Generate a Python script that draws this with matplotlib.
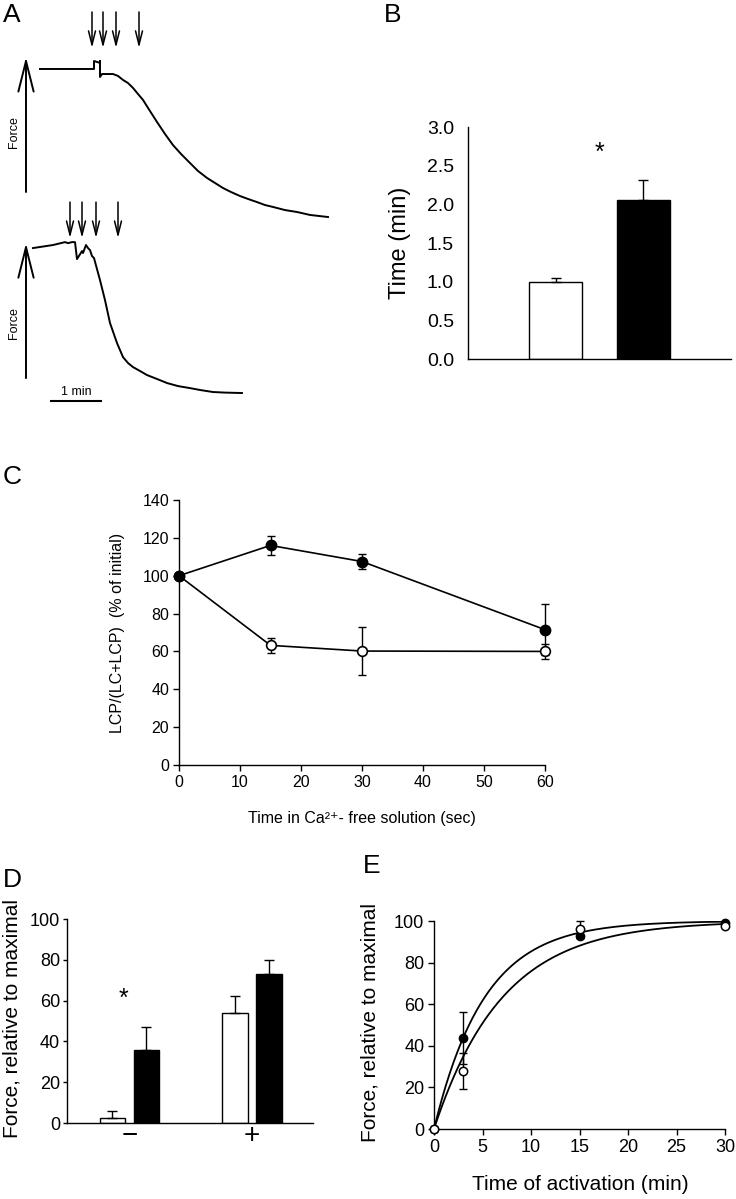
import numpy as np
import matplotlib.pyplot as plt

plt.rcParams['font.family'] = ['Liberation Sans', 'DejaVu Sans']
plt.rcParams['axes.linewidth'] = 1.0

# ---- panel A: force traces (time in min, force relative to initial) ----
trace1_t = [0.00, 0.96, 1.06, 1.08, 1.08, 1.20, 1.20, 1.20, 1.24, 1.30, 1.46, 1.56, 1.66,
            1.76, 1.86, 1.96, 2.06, 2.20, 2.34, 2.50, 2.66, 2.82, 3.00, 3.16, 3.34, 3.50,
            3.66, 3.82, 4.00, 4.16, 4.34, 4.50, 4.66, 4.90, 5.14, 5.40, 5.76]
trace1_f = [1.000, 1.000, 1.000, 1.000, 1.054, 1.041, 1.054, 0.946, 0.966, 0.966, 0.966, 0.953, 0.926,
            0.905, 0.872, 0.831, 0.791, 0.716, 0.642, 0.561, 0.486, 0.426, 0.365, 0.311, 0.264, 0.230,
            0.196, 0.169, 0.142, 0.122, 0.101, 0.081, 0.068, 0.047, 0.034, 0.014, 0.000]
trace1_events = [1.04, 1.26, 1.52, 1.98]

trace2_t = [-0.14, 0.26, 0.50, 0.56, 0.64, 0.70, 0.74, 0.84, 0.86, 0.92, 0.96, 1.00,
            1.04, 1.08, 1.20, 1.30, 1.40, 1.54, 1.66, 1.76, 1.86, 2.00, 2.14, 2.34, 2.54,
            2.76, 3.00, 3.20, 3.46, 3.70, 4.04]
trace2_f = [1.000, 1.021, 1.041, 1.034, 1.041, 1.041, 0.924, 0.979, 0.966, 1.021, 1.000, 0.986,
            0.945, 0.931, 0.779, 0.641, 0.483, 0.345, 0.248, 0.207, 0.179, 0.152, 0.124, 0.097, 0.069,
            0.048, 0.034, 0.021, 0.007, 0.003, 0.000]
trace2_events = [0.60, 0.84, 1.12, 1.56]

# ---- panel B ----
b_means = [1.00, 2.05]
b_sem = [0.05, 0.27]

# ---- panel C ----
c_time = [0, 15, 30, 60]
c_filled = [100, 116.0, 107.5, 71.5]
c_filled_err = [0, 5.2, 4.0, 13.3]
c_open = [100, 63.2, 60.2, 60.0]
c_open_err = [0, 3.9, 12.5, 3.8]

# ---- panel D ----
d_labels = ['\u2212', '+']
d_open = [2.5, 53.7]
d_open_err = [3.2, 8.5]
d_filled = [35.7, 72.8]
d_filled_err = [11.4, 7.1]

# ---- panel E ----
e_time = [0, 3, 15, 30]
e_filled = [0, 43.8, 92.8, 99.0]
e_filled_err = [0, 12.5, 0, 0]
e_open = [0, 27.8, 96.0, 97.8]
e_open_err = [0, 8.7, 4.0, 0]
e_rate_fast = 0.192   # fitted rate constants (1/min)
e_rate_slow = 0.142

W, H = 736, 1199
fig = plt.figure(figsize=(W / 100, H / 100), dpi=100)


def px_box(x0, y0, x1, y1):
    return [x0 / W, 1 - y1 / H, (x1 - x0) / W, (y1 - y0) / H]


def ftext(x, y, s, **kw):
    fig.text(x / W, 1 - y / H, s, **kw)


def err_only(ax, x, y, e, **kw):
    x = np.asarray(x); y = np.asarray(y); e = np.asarray(e)
    m = e > 0
    ax.errorbar(x[m], y[m], yerr=e[m], fmt='none', ecolor='k', elinewidth=1,
                capsize=3, capthick=1, clip_on=False, **kw)


# ================= A =================
axA1 = fig.add_axes(px_box(0, 0, 360, 200))
axA1.set_xlim(-0.8, 6.4)
axA1.set_ylim(0.115, 1.466)
axA2 = fig.add_axes(px_box(0, 195, 360, 420))
axA2.set_xlim(-0.8, 6.4)
axA2.set_ylim(-0.186, 1.366)

for ax, t, f, ev, fa, ev_hi, ev_lo, fy in [
        (axA1, trace1_t, trace1_f, trace1_events, (0.169, 1.081), 1.385, 1.142, 0.574),
        (axA2, trace2_t, trace2_f, trace2_events, (0.103, 1.034), 1.317, 1.069, 0.483)]:
    ax.axis('off')
    ax.plot(t, f, color='k', lw=1.4, clip_on=False, solid_joinstyle='round')
    for te in ev:
        ax.annotate('', xy=(te, ev_lo), xytext=(te, ev_hi),
                    arrowprops=dict(arrowstyle='->, head_length=1.0, head_width=0.25',
                                    lw=1.1, color='k', shrinkA=0, shrinkB=0))
    ax.annotate('', xy=(-0.28, fa[1]), xytext=(-0.28, fa[0]),
                arrowprops=dict(arrowstyle='->, head_length=2.2, head_width=0.55',
                                lw=1.4, color='k', shrinkA=0, shrinkB=0))
    ax.text(-0.52, fy, 'Force', rotation=90, ha='center', va='center', fontsize=9)

axA2.plot([0.22, 1.22], [-0.055, -0.055], color='k', lw=1.5, clip_on=False)
axA2.text(0.72, -0.035, '1 min', ha='center', va='bottom', fontsize=9)

# ================= B =================
axB = fig.add_axes(px_box(468, 127, 731, 359))
axB.bar([1, 2], b_means, width=0.6, color=['white', 'black'], edgecolor='black', lw=1)
axB.errorbar([1, 2], b_means, yerr=[[0, 0], b_sem], fmt='none', ecolor='k',
             elinewidth=1, capsize=3.5, capthick=1)
axB.set_xlim(0, 3)
axB.set_ylim(0, 3)
axB.set_yticks(np.arange(0, 3.01, 0.5))
axB.set_yticklabels(['%.1f' % v for v in np.arange(0, 3.01, 0.5)], fontsize=14)
axB.tick_params(axis='y', length=0, pad=10)
axB.set_xticks([])
axB.spines[['top', 'right']].set_visible(False)
axB.text(1.5, 2.66, '*', ha='center', va='center', fontsize=18)
ftext(400, 243, 'Time (min)', rotation=90, ha='center', va='center', fontsize=17)

# ================= C =================
axC = fig.add_axes(px_box(179, 500, 545, 765))
axC.plot(c_time, c_filled, color='k', lw=1.2, zorder=2, clip_on=False)
axC.plot(c_time, c_open, color='k', lw=1.2, zorder=2, clip_on=False)
err_only(axC, c_time, c_open, c_open_err, zorder=3)
err_only(axC, c_time, c_filled, c_filled_err, zorder=3)
axC.plot(c_time, c_open, 'o', ms=7, mfc='white', mec='k', mew=1.2, zorder=4, clip_on=False)
axC.plot(c_time, c_filled, 'o', ms=7.5, mfc='k', mec='k', zorder=5, clip_on=False)
axC.set_xlim(0, 60)
axC.set_ylim(0, 140)
axC.set_xticks(range(0, 61, 10))
axC.set_yticks(range(0, 141, 20))
axC.tick_params(direction='out', length=4, width=1, labelsize=11.5, pad=3)
axC.spines[['top', 'right']].set_visible(False)
ftext(117, 633, 'LCP/(LC+LCP)  (% of initial)', rotation=90, ha='center', va='center',
      fontsize=11.5)
ftext(362, 818, 'Time in Ca\u00b2\u207a- free solution (sec)', ha='center', va='center',
      fontsize=11.5)

# ================= D =================
axD = fig.add_axes(px_box(67, 919, 313, 1123))
xg = np.arange(1, len(d_labels) + 1)
off, bw = 0.139, 0.208
axD.bar(xg - off, d_open, width=bw, color='white', edgecolor='k', lw=1, zorder=2)
axD.bar(xg + off, d_filled, width=bw, color='black', edgecolor='k', lw=1, zorder=2)
axD.errorbar(xg - off, d_open, yerr=[np.zeros(2), d_open_err], fmt='none', ecolor='k',
             elinewidth=1, capsize=3.5, capthick=1, zorder=3)
axD.errorbar(xg + off, d_filled, yerr=[np.zeros(2), d_filled_err], fmt='none', ecolor='k',
             elinewidth=1, capsize=3.5, capthick=1, zorder=3)
axD.set_xlim(0.49, 2.5)
axD.set_ylim(0, 100)
axD.set_yticks(range(0, 101, 20))
axD.tick_params(axis='y', direction='out', length=3, width=1, labelsize=13, pad=2)
axD.set_xticks(xg)
axD.set_xticklabels(d_labels, fontsize=20)
axD.tick_params(axis='x', length=0, pad=0)
axD.spines[['top', 'right']].set_visible(False)
axD.text(0.95, 61, '*', ha='center', va='center', fontsize=18)
ftext(12, 1019, 'Force, relative to maximal', rotation=90, ha='center', va='center',
      fontsize=15)

# ================= E =================
axE = fig.add_axes(px_box(434, 921, 725, 1129))
tt = np.linspace(0, 30, 300)
axE.plot(tt, 100 * (1 - np.exp(-e_rate_fast * tt)), color='k', lw=1.3, zorder=2)
axE.plot(tt, 100 * (1 - np.exp(-e_rate_slow * tt)), color='k', lw=1.3, zorder=2)
err_only(axE, e_time, e_filled, e_filled_err, zorder=3)
err_only(axE, e_time, e_open, e_open_err, zorder=3)
axE.plot(e_time, e_filled, 'o', ms=6, mfc='k', mec='k', zorder=4, clip_on=False)
axE.plot(e_time, e_open, 'o', ms=6, mfc='white', mec='k', mew=1.1, zorder=5, clip_on=False)
axE.set_xlim(0, 30)
axE.set_ylim(0, 100)
axE.set_xticks(range(0, 31, 5))
axE.set_yticks(range(0, 101, 20))
axE.tick_params(direction='out', length=4, width=1, labelsize=13, pad=3)
axE.spines[['top', 'right']].set_visible(False)
ftext(370, 1022, 'Force, relative to maximal', rotation=90, ha='center', va='center',
      fontsize=15)
ftext(580, 1185, 'Time of activation (min)', ha='center', va='center', fontsize=15)

# ---- panel letters ----
for lx, ly, s in [(12, 15, 'A'), (393, 15, 'B'), (12, 477, 'C'), (12, 880, 'D'), (372, 866, 'E')]:
    ftext(lx, ly, s, ha='center', va='center', fontsize=19)

fig.savefig('out.png', dpi=100)
